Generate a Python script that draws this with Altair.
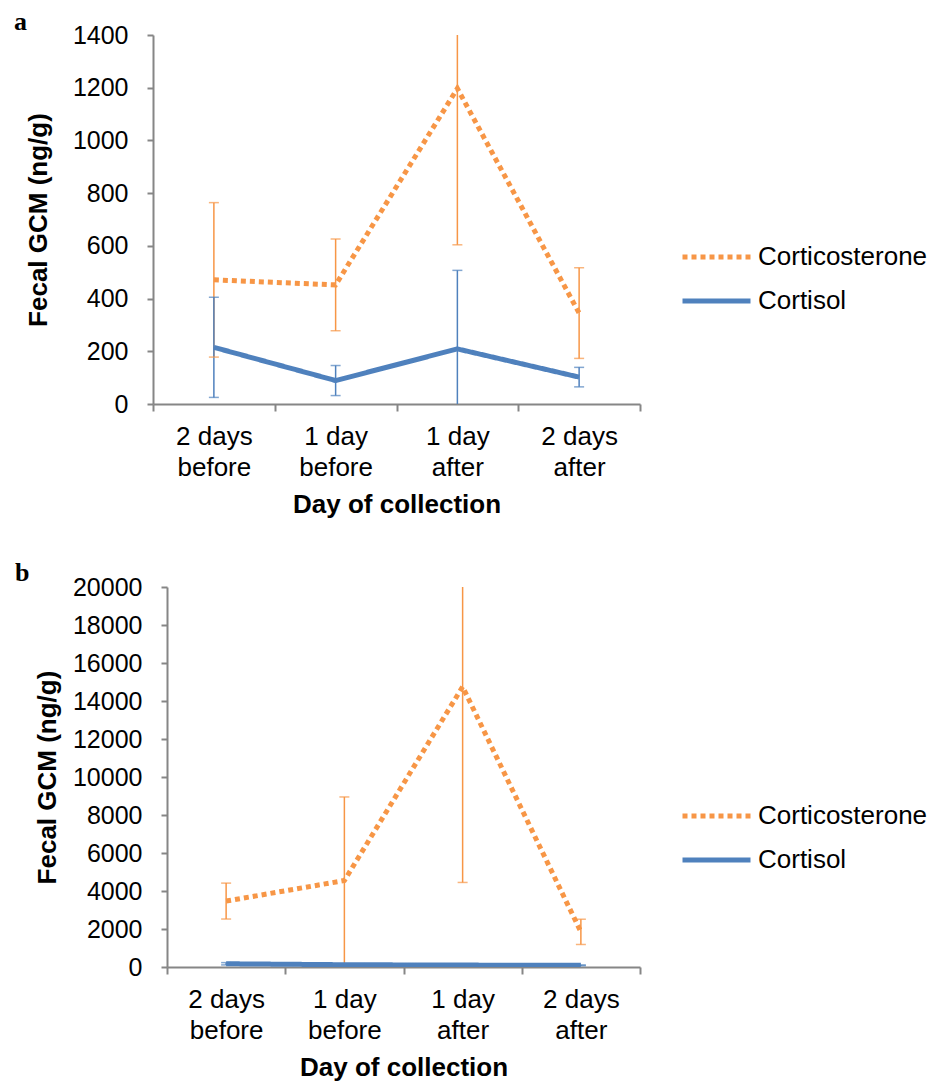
import altair as alt
import numpy as np
import pandas as pd

# Collection days (x categories) and the two-line tick labels drawn for them
days = ["2 days before", "1 day before", "1 day after", "2 days after"]
day_lines = [["2 days", "before"], ["1 day", "before"], ["1 day", "after"], ["2 days", "after"]]
hormones = ["Corticosterone", "Cortisol"]
panel_letters = ["a", "b"]

# Panel a: fecal GCM (ng/g), mean and SD per day
a_corticosterone_mean = [471, 452, 1197, 345]
a_corticosterone_sd = [293, 174, 593, 172]
a_cortisol_mean = [215, 89, 209, 102]
a_cortisol_sd = [190, 57, 298, 37]

# Panel b: fecal GCM (ng/g), mean and SD per day
b_corticosterone_mean = [3470, 4550, 14750, 1850]
b_corticosterone_sd = [945, 4400, 10300, 665]
b_cortisol_mean = [170, 120, 100, 90]
b_cortisol_sd = [60, 40, 30, 20]

ORANGE = "#F79646"
BLUE = "#4F81BD"
AXIS_GREY = "#868686"
SANS = "Liberation Sans"
SERIF = "Liberation Serif"

PLOT_RIGHT = 487   # right end of the x axis inside each panel group
GROUP_W = 780      # panel group width, leaves room for the legend on the right


def panel_table(cs_mean, cs_sd, cl_mean, cl_sd):
    rows = []
    for name, means, sds in [(hormones[0], cs_mean, cs_sd), (hormones[1], cl_mean, cl_sd)]:
        for i, day in enumerate(days):
            rows.append({"day": day, "pos": i + 0.5, "hormone": name,
                         "mean": means[i], "sd": sds[i]})
    return pd.DataFrame(rows)


label_expr = "datum.value < %d ? %s[datum.value] : ''" % (
    len(days), "[" + ",".join("['%s','%s']" % (l1, l2) for l1, l2 in day_lines) + "]")

# error bars take the series colour directly, so they add no scale or legend
err_color = alt.condition(alt.datum.hormone == hormones[1], alt.value(BLUE), alt.value(ORANGE))


def panel(df, letter, inset, height, ymax, ystep, title_pad,
          letter_x, letter_y, legend_x, legend_y):
    """One panel; `inset` pushes the plot's left edge (and y axis) right."""
    color_scale = alt.Scale(domain=hormones, range=[ORANGE, BLUE])
    dash_scale = alt.Scale(domain=hormones, range=[[5, 4], [1, 0]])
    legend = alt.Legend(
        title=None, orient="none", legendX=legend_x, legendY=legend_y,
        symbolType="stroke", symbolSize=68 * 68, symbolStrokeWidth=5,
        labelFont=SANS, labelFontSize=26, labelColor="black", labelOffset=5,
        labelLimit=400, clipHeight=26, rowPadding=18,
    )
    plot_w = PLOT_RIGHT - inset
    x = alt.X(
        "pos:Q",
        scale=alt.Scale(domain=[0, len(days)], nice=False, zero=False,
                        range=[inset, PLOT_RIGHT]),
        axis=alt.Axis(
            values=list(range(len(days) + 1)), tickCount=len(days) + 1,
            labelExpr=label_expr,
            labelOffset=plot_w / len(days) / 2, labelFlush=False, labelOverlap=False,
            labelBound=False, labelLineHeight=31, labelPadding=12, tickSize=7,
            labelFontSize=26, titleFontSize=26,
            title="Day of collection", titlePadding=11, grid=False,
        ),
    )
    y_ticks = list(range(0, ymax + 1, ystep))
    y_scale = alt.Scale(domain=[0, ymax], nice=False)
    y = alt.Y(
        "mean:Q", scale=y_scale,
        axis=alt.Axis(values=y_ticks, tickCount=len(y_ticks), format="d", tickSize=6,
                      labelOverlap=False, labelPadding=19, offset=-inset,
                      title="Fecal GCM (ng/g)", titlePadding=title_pad, grid=False),
    )
    base = alt.Chart(df).transform_calculate(
        lo="datum.mean - datum.sd", hi="datum.mean + datum.sd"
    )

    bars = base.mark_rule(strokeWidth=1.5, clip=True).encode(
        x=x, y=alt.Y("lo:Q", scale=y_scale), y2="hi:Q", color=err_color,
    )
    caps = base.transform_fold(["lo", "hi"], as_=["end", "val"]).mark_tick(
        orient="horizontal", size=10, thickness=1.5, clip=True
    ).encode(x=x, y=alt.Y("val:Q", scale=y_scale), color=err_color)
    lines = base.mark_line(strokeWidth=5, clip=True).encode(
        x=x, y=y,
        color=alt.Color("hormone:N", scale=color_scale, legend=legend),
        strokeDash=alt.StrokeDash("hormone:N", scale=dash_scale, legend=legend),
        order="pos:Q",
    )
    tag = alt.Chart(pd.DataFrame({"letter": [letter]})).mark_text(
        font=SERIF, fontWeight="bold", fontSize=26, align="left", baseline="alphabetic",
        color="black",
    ).encode(text="letter:N", x=alt.value(letter_x), y=alt.value(letter_y))

    return alt.layer(bars, caps, lines, tag).properties(width=GROUP_W, height=height)


panel_a = panel(
    panel_table(a_corticosterone_mean, a_corticosterone_sd, a_cortisol_mean, a_cortisol_sd),
    panel_letters[0], 0, 369, 1400, 200, 21, -139, -5, 527, 209,
)
panel_b = panel(
    panel_table(b_corticosterone_mean, b_corticosterone_sd, b_cortisol_mean, b_cortisol_sd),
    panel_letters[1], 14, 380, 20000, 2000, 12, -138, -6, 527, 216,
)

chart = alt.ConcatChart(
    concat=[panel_a, panel_b], columns=1, align="none", spacing=43, bounds="full"
).resolve_scale(
    color="independent", strokeDash="independent"
).resolve_legend(
    color="independent", strokeDash="independent"
).properties(
    padding={"left": 14, "top": 9, "right": 5, "bottom": 5}
).configure_view(stroke=None).configure_axis(
    domainColor=AXIS_GREY, domainWidth=2, tickColor=AXIS_GREY, tickWidth=2,
    labelFont=SANS, labelFontSize=25, labelColor="black",
    titleFont=SANS, titleFontSize=26, titleFontWeight="bold", titleColor="black",
)

chart.save("out.html", embed_options={"renderer": "svg", "actions": False})
